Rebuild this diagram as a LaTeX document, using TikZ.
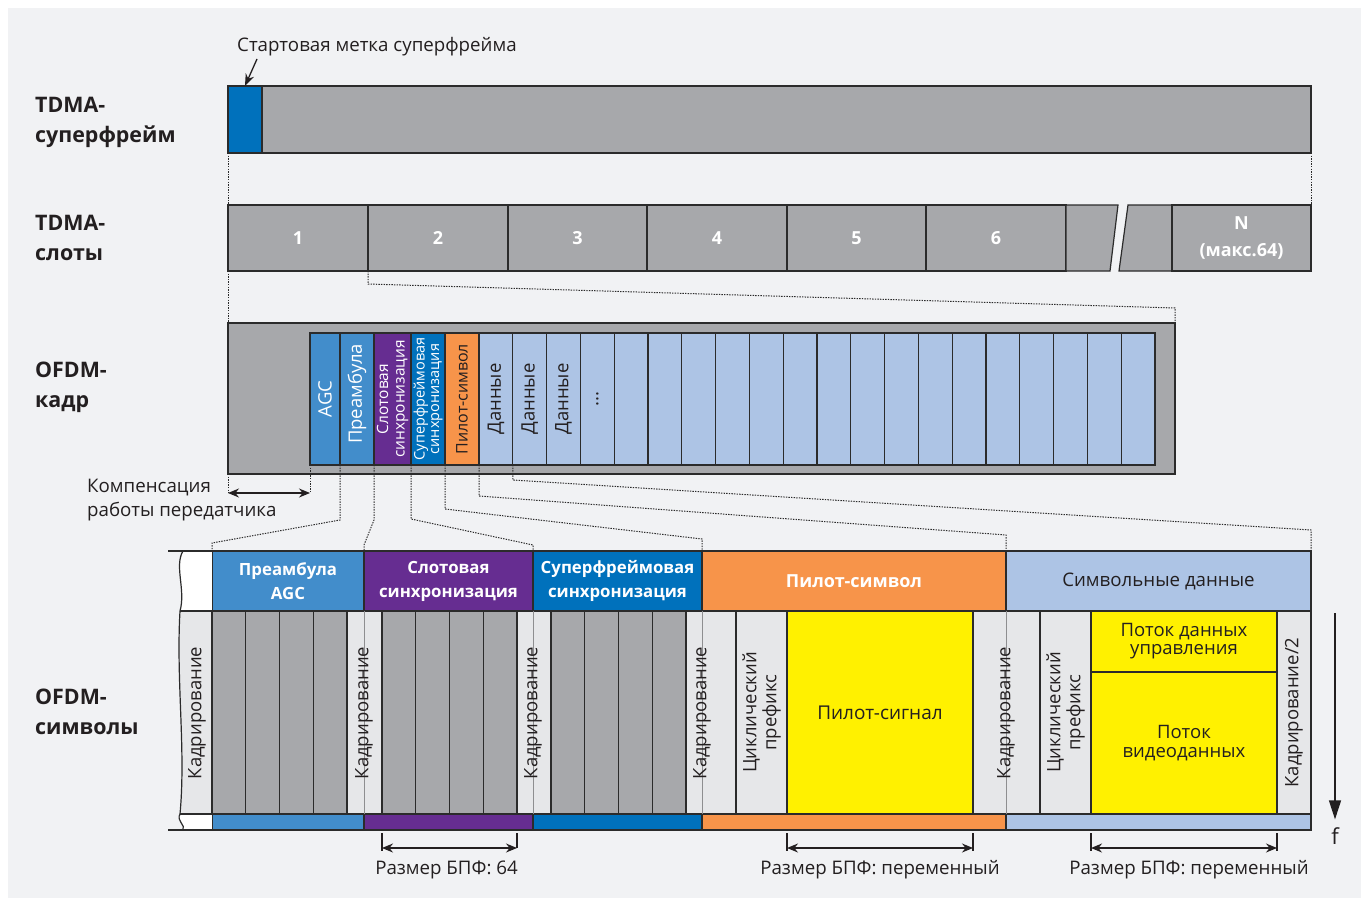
\documentclass[tikz,border=0pt]{standalone}
\usepackage{fontspec}
\setmainfont{Open Sans}
\usetikzlibrary{arrows.meta,calc}
\definecolor{bgc}{HTML}{F1F2F4}
\definecolor{gry}{HTML}{A7A8AB}
\definecolor{lgry}{HTML}{E6E7E9}
\definecolor{bluedk}{HTML}{0071BC}
\definecolor{bluemd}{HTML}{428DCB}
\definecolor{purp}{HTML}{662D91}
\definecolor{orng}{HTML}{F7944A}
\definecolor{lblue}{HTML}{ADC4E5}
\definecolor{yel}{HTML}{FFF100}
\definecolor{dk}{HTML}{2B2B2B}
\definecolor{txt}{HTML}{231F20}
\definecolor{thn}{HTML}{8E8E90}
\newcommand\bx[7]{\node[box,#6,minimum width={((#4)-(#2))*1pt},minimum height={((#5)-(#3))*1pt}] (#1) at ({#2},{#3}) {#7};}
\begin{document}
\begin{tikzpicture}[x=1pt,y=-1pt,
 box/.style={draw=dk,line width=1.2pt,inner sep=0pt,outer sep=0pt,anchor=north west},
 dotl/.style={draw=dk,line width=1pt,dash pattern=on 1.4pt off 1.2pt},
 rowlab/.style={font=\fontsize{21.4}{30}\selectfont\bfseries,align=left,anchor=west,inner sep=0pt,text=txt},
 lab/.style={font=\fontsize{18.7}{24}\selectfont,text=txt,inner sep=0pt},
 wb/.style={font=\fontsize{16.8}{24}\selectfont\bfseries,text=white,align=center},
 vlab/.style={font=\fontsize{18.5}{20}\selectfont,text=txt,rotate=90,inner sep=0pt,align=center},
 vw/.style={vlab,text=white},
 dim/.style={draw=txt,line width=1.3pt},
 dimarr/.style={dim,{Stealth[length=11pt,width=9pt]}-{Stealth[length=11pt,width=9pt]}},
 thinl/.style={draw=thn,line width=0.8pt}
]
\useasboundingbox (0,0) rectangle (1369,902);
\fill[white] (0,0) rectangle (1369,902);
\fill[bgc] (8,8) rectangle (1361,898);
% row labels
\node[rowlab] (lSF) at (35,122) {TDMA-\\суперфрейм};
\node[rowlab] (lSl) at (35,238) {TDMA-\\слоты};
\node[rowlab] (lFr) at (35,387) {OFDM-\\кадр};
\node[rowlab] (lSy) at (35,712) {OFDM-\\символы};
% superframe
\bx{sf}{228}{86}{1311}{153}{fill=gry}{}
\bx{sfm}{228}{86}{262}{153}{fill=bluedk}{}
\node[lab,anchor=base west] (sfl) at (237,51) {Стартовая метка суперфрейма};
\coordinate (mk) at (257,59);
\draw[dim,-{Stealth[length=12pt,width=9pt]}] (mk) -- (sfm.north);
% slots
\foreach \n/\a/\b in {1/228/368,2/368/508,3/508/647,4/647/787,5/787/926,6/926/1066}{\bx{s\n}{\a}{205}{\b}{271}{fill=gry,wb,font=\fontsize{18}{24}\selectfont\bfseries,text depth=-2pt}{\n}}
\filldraw[fill=gry,draw=dk,line width=1.2pt] (1066,205) -- (1118,205) -- (1110,271) -- (1066,271) -- cycle;
\filldraw[fill=gry,draw=dk,line width=1.2pt] (1128,205) -- (1172,205) -- (1172,271) -- (1119,271) -- cycle;
\bx{sN}{1172}{205}{1311}{271}{fill=gry,wb,font=\fontsize{18}{27}\selectfont\bfseries}{N\\(макс.64)}
% frame
\bx{fr}{228}{323}{1175}{474}{fill=gry}{}
\bx{agc}{310}{333}{340}{465}{fill=bluemd}{}
\bx{pre}{340}{333}{374}{465}{fill=bluemd}{}
\bx{ssy}{374}{333}{411}{465}{fill=purp}{}
\bx{sfs}{411}{333}{445}{465}{fill=bluedk}{}
\bx{pil}{445}{333}{479}{465}{fill=orng}{}
\foreach \i in {1,...,20}{\bx{d\i}{479+33.8*(\i-1)}{333}{479+33.8*\i}{465}{fill=lblue}{}}
\node[vw,font=\fontsize{18.5}{20}\selectfont] at (agc.center) {AGC};
\node[vw] at ($(pre.center)+(0,-5)$) {Преамбула};
\node[vw,font=\fontsize{15.5}{16.5}\selectfont] at (ssy.center) {Слотовая\\синхронизация};
\node[vw,font=\fontsize{14.5}{14.5}\selectfont] at (sfs.center) {Суперфреймовая\\синхронизация};
\node[vlab,font=\fontsize{16}{18}\selectfont] at (pil.center) {Пилот-символ};
\foreach \i in {1,2,3}{\node[vlab] at (d\i.center) {Данные};}
\node[vlab] at (d4.center) {...};
% dotted between rows
\draw[dotl] (sf.south west) -- (s1.north west);
\draw[dotl] (sf.south east) -- (sN.north east);
\draw[dotl] (s1.south west) -- (fr.north west);
\draw[dotl] (s2.south west) -- ++(0,13) -- ($(fr.north east)+(0,-15)$) -- (fr.north east);
% compensation
\draw[dotl] (fr.south west) -- ++(0,19) coordinate (ca);
\draw[dotl] (agc.south west) -- ++(0,28) coordinate (cb);
\draw[dimarr] (ca) -- (cb);
\node[lab,align=left,anchor=north west] (comp) at (87,479) {Компенсация\\работы передатчика};
% symbols: headers
\bx{hPre}{212}{551}{364}{611}{fill=bluemd,wb}{Преамбула\\AGC}
\bx{hSs}{364}{551}{533}{611}{fill=purp,wb}{Слотовая\\синхронизация}
\bx{hSf}{533}{551}{702}{611}{fill=bluedk,wb}{Суперфреймовая\\синхронизация}
\bx{hPil}{702}{551}{1006}{611}{fill=orng,wb,font=\fontsize{18}{24}\selectfont\bfseries}{Пилот-символ}
\bx{hDat}{1006}{551}{1311}{611}{fill=lblue,lab}{Символьные данные}
% bottom strips
\bx{bPre}{212}{814}{364}{830}{fill=bluemd}{}
\bx{bSs}{364}{814}{533}{830}{fill=purp}{}
\bx{bSf}{533}{814}{702}{830}{fill=bluedk}{}
\bx{bPil}{702}{814}{1006}{830}{fill=orng}{}
\bx{bDat}{1006}{814}{1311}{830}{fill=lblue}{}
% body
\bx{body}{212}{611}{1311}{814}{fill=lgry}{}
\begin{scope}
\clip (183,551) .. controls (174,566) and (186,590) .. (180,611) .. controls (176,680) and (186,750) .. (180,814) .. controls (176,821) and (186,825) .. (183,830) -- (215,830) -- (215,551) -- cycle;
\fill[white] (170,551) rectangle (212,830);
\fill[lgry] (170,611) rectangle (212,814);
\end{scope}
\draw[draw=dk,line width=1.2pt] (183,551) .. controls (174,566) and (186,590) .. (180,611) .. controls (176,680) and (186,750) .. (180,814) .. controls (176,821) and (186,825) .. (183,830);
\draw[draw=dk,line width=1.2pt] (168,551) -- (hPre.north west);
\draw[draw=dk,line width=1.2pt] (168,830) -- (bPre.south west);
\draw[draw=dk,line width=1.2pt] (180,611) -- (body.north west);
\draw[draw=dk,line width=1.2pt] (180,814) -- (body.south west);
\foreach \g/\s in {1/212,2/382,3/551}{\foreach \i in {0,...,3}{\bx{g\g\i}{\s+33.75*\i}{611}{\s+33.75*(\i+1)}{814}{fill=gry}{}}}
\bx{cp1}{736}{611}{787}{814}{fill=lgry}{}
\bx{ps}{787}{611}{973}{814}{fill=yel,lab,font=\fontsize{19}{24}\selectfont}{Пилот-сигнал}
\bx{cp2}{1040}{611}{1091}{814}{fill=lgry}{}
\bx{ctl}{1091}{611}{1277}{672}{fill=yel,lab,align=center,font=\fontsize{18.5}{18}\selectfont}{Поток данных\\управления}
\bx{vid}{1091}{672}{1277}{814}{fill=yel,lab,align=center,font=\fontsize{18.5}{19}\selectfont}{Поток\\видеоданных}
\bx{k2}{1277}{611}{1311}{814}{fill=lgry}{}
\draw[draw=dk,line width=1.2pt] (686,611) -- (686,814);
\foreach \h/\b in {hSs/bSs,hSf/bSf,hPil/bPil,hDat/bDat}{\draw[thinl] (\h.south west) -- (\b.north west);}
\node[vlab] at (197,713) {Кадрирование};
\foreach \h in {hSs,hSf,hPil,hDat}{\node[vlab] at ($(\h.south west)+(0,102)$) {Кадрирование};}
\node[vlab,font=\fontsize{18.5}{20}\selectfont] at (cp1.center) {Циклический\\префикс};
\node[vlab,font=\fontsize{18.5}{20}\selectfont] at (cp2.center) {Циклический\\префикс};
\node[vlab] at (k2.center) {Кадрирование/2};
% dotted from frame to symbols
\draw[dotl] (pre.south west) -- ++(0,55) -- ($(hPre.north west)+(0,-8)$) -- (hPre.north west);
\draw[dotl] (ssy.south west) -- ++(0,55) -- ($(hSs.north west)+(0,-6)$) -- (hSs.north west);
\draw[dotl] (sfs.south west) -- ++(0,54) -- ($(hSf.north west)+(0,-6)$) -- (hSf.north west);
\draw[dotl] (pil.south west) -- ++(0,44) -- ($(hPil.north west)+(0,-12)$) -- (hPil.north west);
\draw[dotl] (d1.south west) -- ++(0,31) -- ($(hDat.north west)+(0,-16)$) -- (hDat.north west);
\draw[dotl] (d1.south east) -- ++(0,15) -- ($(hDat.north east)+(0,-21)$) -- (hDat.north east);
% FFT dimensions
\draw[dim] ($(g20.south west)+(0,19)$) -- ++(0,18);
\draw[dim] ($(g23.south east)+(0,19)$) -- ++(0,15);
\draw[dimarr] ($(g20.south west)+(0,34)$) coordinate (fa1) -- ($(g23.south east)+(0,34)$) coordinate (fb1);
\node[lab] (fl1) at ($(fa1)!0.5!(fb1)+(-3,22)$) {Размер БПФ: 64};
\draw[dim] ($(ps.south west)+(0,19)$) -- ++(0,18);
\draw[dim] ($(ps.south east)+(0,19)$) -- ++(0,18);
\draw[dimarr] ($(ps.south west)+(0,34)$) coordinate (fa2) -- ($(ps.south east)+(0,34)$) coordinate (fb2);
\node[lab] (fl2) at ($(fa2)!0.5!(fb2)+(0,22)$) {Размер БПФ: переменный};
\draw[dim] ($(vid.south west)+(0,19)$) -- ++(0,18);
\draw[dim] ($(vid.south east)+(0,19)$) -- ++(0,18);
\draw[dimarr] ($(vid.south west)+(0,34)$) coordinate (fa3) -- ($(vid.south east)+(0,34)$) coordinate (fb3);
\node[lab] (fl3) at ($(fa3)!0.5!(fb3)+(5,22)$) {Размер БПФ: переменный};
% frequency arrow
\coordinate (ftop) at (1335,613);
\node[lab,font=\fontsize{22}{24}\selectfont] (fq) at (1335,836) {f};
\draw[dim,-{Triangle[length=19pt,width=12pt]}] (ftop) -- ($(fq.north)+(0,-8)$);
\end{tikzpicture}
\end{document}
